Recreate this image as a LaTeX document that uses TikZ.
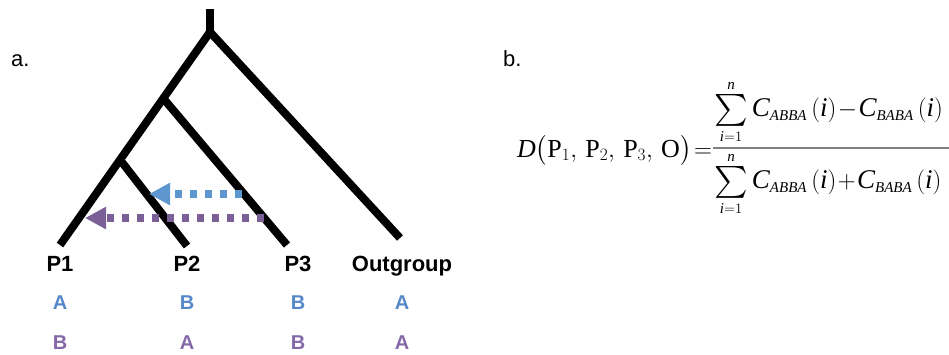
\documentclass[tikz,border=0pt]{standalone}
\usepackage{amsmath}
\usepackage{graphicx}
\usepackage{fontspec}
\setmainfont{Liberation Serif}
\setsansfont{Liberation Sans}
\usetikzlibrary{arrows.meta}
\DeclareMathSizes{26}{26}{16}{12}
\DeclareMathSizes{27}{27}{15}{11}
\definecolor{hblue}{RGB}{94,151,208}
\definecolor{hpurple}{RGB}{122,96,150}
\definecolor{lblue}{RGB}{84,136,200}
\definecolor{lpurple}{RGB}{132,104,168}
\definecolor{barcol}{RGB}{128,128,128}
\newcommand\mvar[1]{\text{\itshape #1}}
\newcommand\bigsum{\mathop{\vcenter{\hbox{\scalebox{1.28}{$\sum$}}}}}
\newcommand\sumin{\bigsum\limits_{\mvar{i}=1}^{\mvar{n}}}
\tikzset{
  branch/.style={line width=8pt, line cap=butt, line join=miter},
  flow/.style={line width=8pt, dash pattern=on 7pt off 8pt, -{Triangle[length=21pt,width=21pt]}},
  taxon/.style={anchor=base, font=\fontsize{22}{26}\selectfont\sffamily\bfseries, inner sep=0pt},
  allele/.style={anchor=base, font=\fontsize{20}{24}\selectfont\sffamily\bfseries, inner sep=0pt},
  panel/.style={anchor=base west, font=\fontsize{22}{26}\selectfont\sffamily, inner sep=0pt},
  formula/.style={inner sep=0pt, font=\fontsize{27}{32}\selectfont},
}
\begin{document}
\begin{tikzpicture}[x=1pt,y=-1pt]
\useasboundingbox (0,0) rectangle (949,354);
\clip (0,0) rectangle (949,354);
% tree
\coordinate (top) at (210,9);
\coordinate (root) at (210,32);
\coordinate (n3) at (163,98);
\coordinate (n12) at (121,161);
\coordinate (l1) at (60,245);
\coordinate (l2) at (187,246);
\coordinate (l3) at (287,245);
\coordinate (lo) at (400,238);
\draw[branch] (top) -- (root);
\draw[branch] (l1) -- (root) -- (lo);
\draw[branch] (n3) -- (l3);
\draw[branch] (n12) -- (l2);
% introgression arrows
\coordinate (bs) at (242,194);
\coordinate (be) at (149,194);
\coordinate (ps) at (264,218);
\coordinate (pe) at (85,218);
\draw[flow, hblue] (bs) -- (be);
\draw[flow, hpurple] (ps) -- (pe);
% labels
\node[panel] (a) at (11,66) {a.};
\node[panel] (b) at (503,66) {b.};
\node[taxon] (t1) at (60,271) {P1};
\node[taxon] (t2) at (187,271) {P2};
\node[taxon] (t3) at (298,271) {P3};
\node[taxon] (to) at (402,271) {Outgroup};
\node[allele, lblue] (a1) at (60,309) {A};
\node[allele, lblue] (a2) at (187,309) {B};
\node[allele, lblue] (a3) at (298,309) {B};
\node[allele, lblue] (a4) at (402,309) {A};
\node[allele, lpurple] (b1) at (60,349) {B};
\node[allele, lpurple] (b2) at (187,349) {A};
\node[allele, lpurple] (b3) at (298,349) {B};
\node[allele, lpurple] (b4) at (402,349) {A};
% formula
\node[formula, anchor=base west, font=\fontsize{26}{30}\selectfont] (lhs) at (517,157)
 {$\mvar{D}\bigl(\mathrm{P}_1,\,\mathrm{P}_2,\,\mathrm{P}_3,\,\mathrm{O}\bigr)\!=$};
\node[formula, anchor=south west] (num) at (714,144)
 {$\sumin \mvar{C}_{\mvar{ABBA}}\,(\mvar{i})\!-\!\mvar{C}_{\mvar{BABA}}\,(\mvar{i})$};
\node[formula, anchor=north west] (den) at (714,152)
 {$\sumin \mvar{C}_{\mvar{ABBA}}\,(\mvar{i})\!+\!\mvar{C}_{\mvar{BABA}}\,(\mvar{i})$};
\coordinate (barL) at (713,147.5);
\coordinate (barR) at (949,147.5);
\draw[barcol, line width=2pt] (barL) -- (barR);
\end{tikzpicture}
\end{document}
